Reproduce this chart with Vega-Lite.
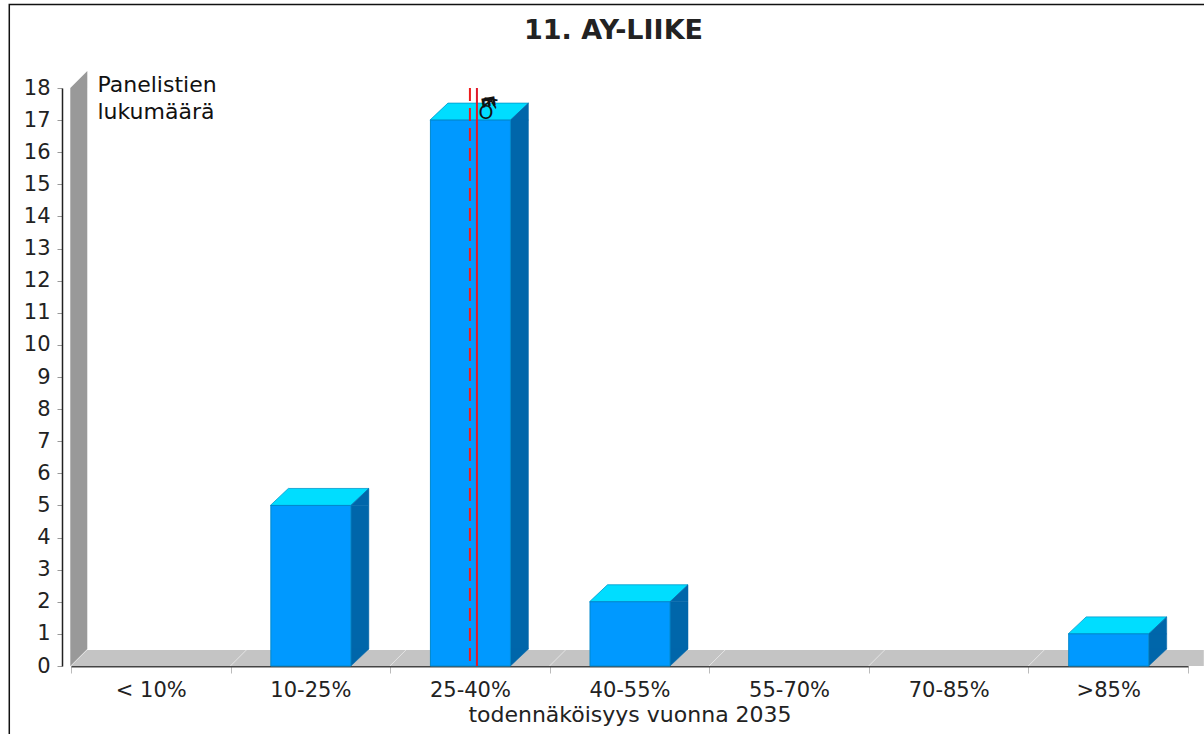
{
 "$schema":"https://vega.github.io/schema/vega-lite/v6.json",
 "width":1117,"height":578,
 "autosize":{"type":"none"},
 "padding":{"left":71,"top":88,"right":16,"bottom":68},
 "background":"#ffffff",
 "view":{"stroke":null},
 "datasets":{"counts":[
  {"cat":"< 10%","n":0},{"cat":"10-25%","n":5},{"cat":"25-40%","n":17},{"cat":"40-55%","n":2},{"cat":"55-70%","n":0},{"cat":"70-85%","n":0},{"cat":">85%","n":1}]},
 "data":{"name":"counts"},
 "config":{"font":"DejaVu Sans"},
 "encoding":{
  "x":{"field":"cat","type":"nominal","sort":null,"scale":{"paddingInner":0,"paddingOuter":0},
   "axis":{"title":"todennäköisyys vuonna 2035","titleFont":"DejaVu Sans","titleFontSize":22,"titleFontWeight":"normal","titleColor":"#222222","titlePadding":4,"labelAngle":0,"labelFontSize":21,"labelColor":"#222222","labelPadding":6,"tickBand":"extent","tickSize":7,"tickColor":"#bbbbbb","tickWidth":1,"domainColor":"#444444","domainWidth":2,"grid":false}},
  "y":{"field":"n","type":"quantitative","scale":{"domain":[0,18],"nice":false},
   "axis":{"values":[0,1,2,3,4,5,6,7,8,9,10,11,12,13,14,15,16,17,18],"format":"d","offset":9,"grid":false,"domainColor":"#222222","domainWidth":1.5,"tickSize":5,"tickColor":"#999999","labelFontSize":21,"labelColor":"#222222","labelPadding":7,
    "title":["Panelistien","lukumäärä"],"titleAngle":0,"titleAlign":"left","titleBaseline":"top","titleX":35,"titleY":-14,"titleFont":"DejaVu Sans","titleFontSize":22,"titleFontWeight":"normal","titleColor":"#111111","titleLineHeight":27}}
 },
 "layer":[
  {"mark":{"type":"point","shape":"M-80.5,0L-63.5,-16L1053,-16L1053,0Z","size":4,"filled":true,"fill":"#c4c4c4","stroke":null,"opacity":1,"clip":false},
   "transform":[{"filter":"datum.cat === '< 10%'"}],
   "encoding":{"y":{"datum":0}}},
  {"mark":{"type":"point","shape":"M-80,0L-64,-16","size":4,"filled":false,"stroke":"#e4e4e4","strokeWidth":1,"opacity":1},
   "encoding":{"y":{"datum":0}}},
  {"mark":{"type":"point","shape":"M-80.5,0L-63.5,-17L-63.5,-595L-80.5,-578Z","size":4,"filled":true,"fill":"#999999","stroke":null,"opacity":1,"clip":false},
   "transform":[{"filter":"datum.cat === '< 10%'"}],
   "encoding":{"y":{"datum":0}}},
  {"mark":{"type":"point","shape":"M-141.5,646L-141.5,-83.5L1060,-83.5","size":4,"filled":false,"stroke":"#111111","strokeWidth":1.5,"opacity":1,"clip":false},
   "transform":[{"filter":"datum.cat === '< 10%'"}],
   "encoding":{"y":{"datum":18}}},
  {"mark":{"type":"point","shape":"M40.5,0L58.5,-17L40.5,-17Z","size":4,"filled":true,"fill":"#0066aa","stroke":"#0066aa","strokeWidth":0.5,"opacity":1},
   "transform":[{"filter":"datum.n > 0"}],
   "encoding":{"y":{"datum":0}}},
  {"mark":{"type":"bar","width":18,"xOffset":49.5,"y2Offset":-17,"fill":"#0066aa","stroke":"#0066aa","strokeWidth":0.5},
   "transform":[{"filter":"datum.n > 0"}],
   "encoding":{"y2":{"datum":0}}},
  {"mark":{"type":"point","shape":"M-40,0L-22,-17L58.5,-17L40.5,0Z","size":4,"filled":true,"fill":"#00ddff","stroke":"#0099cc","strokeWidth":0.8,"opacity":1},
   "transform":[{"filter":"datum.n > 0"}]},
  {"mark":{"type":"point","shape":"M40.5,0L58.5,-17L58.5,0Z","size":4,"filled":true,"fill":"#0066aa","stroke":"#0066aa","strokeWidth":0.5,"opacity":1},
   "transform":[{"filter":"datum.n > 0"}]},
  {"mark":{"type":"bar","width":80,"xOffset":0.5,"fill":"#0099ff","stroke":"#0088cc","strokeWidth":1},
   "transform":[{"filter":"datum.n > 0"}],
   "encoding":{"y2":{"datum":0}}},
  {"mark":{"type":"rule","stroke":"#ee1c1c","strokeWidth":2,"strokeDash":[13,7]},
   "transform":[{"filter":"datum.cat === '25-40%'"}],
   "encoding":{"y":{"datum":18},"y2":{"datum":0}}},
  {"mark":{"type":"rule","stroke":"#e0182a","strokeWidth":2,"xOffset":7},
   "transform":[{"filter":"datum.cat === '25-40%'"}],
   "encoding":{"y":{"datum":18},"y2":{"datum":0}}},
  {"mark":{"type":"text","text":"O","fontSize":19,"color":"#111111","xOffset":16,"yOffset":-7},
   "transform":[{"filter":"datum.cat === '25-40%'"}],
   "encoding":{"y":{"datum":17}}},
  {"mark":{"type":"text","text":"E","fontSize":18,"angle":80,"color":"#111111","xOffset":17,"yOffset":-18,"fontWeight":"bold"},
   "transform":[{"filter":"datum.cat === '25-40%'"}],
   "encoding":{"y":{"datum":17}}},
  {"mark":{"type":"text","text":"K","fontSize":18,"angle":100,"color":"#111111","xOffset":19,"yOffset":-18},
   "transform":[{"filter":"datum.cat === '25-40%'"}],
   "encoding":{"y":{"datum":17}}},
  {"mark":{"type":"text","text":"11. AY-LIIKE","fontSize":27,"color":"#222222","xOffset":-16,"yOffset":-57,"fontWeight":"bold"},
   "transform":[{"filter":"datum.cat === '40-55%'"}],
   "encoding":{"y":{"datum":18}}}
 ]
}
